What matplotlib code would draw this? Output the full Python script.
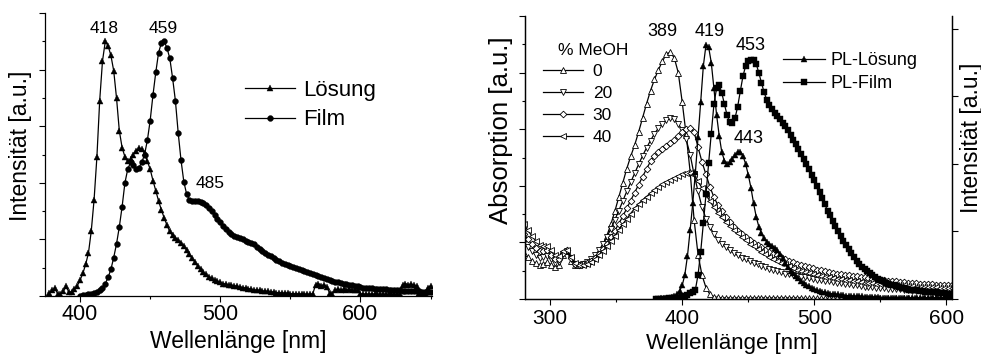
import numpy as np
import matplotlib
matplotlib.use("Agg")
import matplotlib.pyplot as plt
from matplotlib.ticker import MultipleLocator, NullFormatter

plt.rcParams['font.family'] = ['Liberation Sans', 'DejaVu Sans']

# ---------------- Left panel: emission (solution vs film) ----------------
loesung_start, loesung_step = 378, 2
loesung = [0.05, 0.1, 0.14, 0.04, 0.04, 0.08, 0.17, 0.07, 0.07, 0.12,
           0.18, 0.28, 0.4, 0.56, 0.76, 1.15, 1.7, 2.45, 3.45, 4.15,
           4.5, 4.42, 4.25, 3.98, 3.5, 2.92, 2.62, 2.46, 2.38, 2.42,
           2.5, 2.57, 2.61, 2.6, 2.52, 2.38, 2.24, 2.04, 1.86, 1.68,
           1.52, 1.38, 1.25, 1.14, 1.07, 1.03, 0.99, 0.94, 0.88, 0.81,
           0.74, 0.67, 0.6, 0.53, 0.47, 0.42, 0.38, 0.34, 0.31, 0.28,
           0.26, 0.24, 0.22, 0.21, 0.2, 0.19, 0.18, 0.17, 0.16, 0.15,
           0.14, 0.13, 0.12, 0.11, 0.1, 0.1, 0.09, 0.08, 0.08, 0.07,
           0.07, 0.06, 0.06, 0.05, 0.05, 0.05, 0.04, 0.04, 0.04, 0.04,
           0.03, 0.03, 0.03, 0.03, 0.04, 0.2, 0.22, 0.18, 0.2, 0.16,
           0.05, 0.04, 0.1, 0.12, 0.1, 0.12, 0.1, 0.12, 0.11, 0.1,
           0.11, 0.04, 0.03, 0.03, 0.03, 0.03, 0.03, 0.03, 0.03, 0.03,
           0.03, 0.03, 0.03, 0.03, 0.03, 0.04, 0.2, 0.22, 0.2, 0.21,
           0.19, 0.18, 0.05, 0.04, 0.06, 0.15, 0.18]

film_start, film_step = 400, 2
film = [0.0, 0.01, 0.02, 0.03, 0.04, 0.05, 0.07, 0.1, 0.15, 0.22,
        0.33, 0.47, 0.68, 0.92, 1.22, 1.58, 2.0, 2.24, 2.36, 2.32,
        2.24, 2.27, 2.36, 2.5, 2.75, 3.1, 3.55, 3.95, 4.3, 4.47,
        4.5, 4.38, 4.2, 3.85, 3.45, 2.88, 2.4, 2.02, 1.8, 1.7,
        1.68, 1.67, 1.67, 1.66, 1.64, 1.6, 1.55, 1.5, 1.43, 1.36,
        1.3, 1.24, 1.18, 1.13, 1.09, 1.06, 1.04, 1.02, 1.0, 0.98,
        0.96, 0.94, 0.91, 0.87, 0.83, 0.8, 0.76, 0.73, 0.7, 0.67,
        0.64, 0.62, 0.59, 0.57, 0.55, 0.53, 0.52, 0.5, 0.48, 0.46,
        0.44, 0.42, 0.41, 0.39, 0.37, 0.35, 0.33, 0.31, 0.3, 0.28,
        0.27, 0.25, 0.24, 0.23, 0.22, 0.21, 0.2, 0.19, 0.18, 0.17,
        0.16, 0.15, 0.15, 0.14, 0.14, 0.13, 0.13, 0.12, 0.12, 0.12,
        0.11, 0.11, 0.1, 0.1, 0.1, 0.09, 0.09, 0.09, 0.08, 0.08,
        0.08, 0.08, 0.07, 0.07, 0.07, 0.07]

left_peak_labels = ["418", "459", "485"]
left_peak_pos = [(417.1, 4.73), (459.5, 4.73), (493.0, 1.99)]
left_series_names = ["Lösung", "Film"]

# ---------------- Right panel: absorption (MeOH) + PL ----------------
abs_start, abs_step = 280, 3
abs_0 = [0.82, 0.74, 0.68, 0.63, 0.6, 0.62, 0.65, 0.6, 0.56, 0.6,
         0.78, 0.84, 0.68, 0.6, 0.6, 0.62, 0.64, 0.68, 0.74, 0.83,
         0.95, 1.12, 1.32, 1.55, 1.8, 2.05, 2.3, 2.52, 2.72, 2.95,
         3.2, 3.45, 3.68, 3.88, 4.05, 4.2, 4.33, 4.36, 4.26, 4.0,
         3.48, 2.9, 2.25, 1.4, 0.78, 0.42, 0.2, 0.08, 0.04, 0.03,
         0.02, 0.02, 0.02, 0.02, 0.02, 0.02, 0.02, 0.02, 0.02, 0.02,
         0.02, 0.02, 0.02, 0.02, 0.02, 0.02, 0.02, 0.02, 0.02, 0.02,
         0.02, 0.01, 0.01, 0.01, 0.01, 0.01, 0.01, 0.01, 0.01, 0.01,
         0.01, 0.01, 0.01, 0.01, 0.01, 0.01, 0.01, 0.01, 0.01, 0.01,
         0.01, 0.01, 0.01, 0.01, 0.01, 0.01, 0.01, 0.01, 0.01, 0.01,
         0.01, 0.01, 0.01, 0.01, 0.01, 0.01, 0.01, 0.01, 0.01]
abs_20 = [1.0, 0.92, 0.85, 0.78, 0.72, 0.74, 0.76, 0.7, 0.64, 0.66,
          0.8, 0.85, 0.7, 0.6, 0.6, 0.62, 0.65, 0.7, 0.77, 0.86,
          0.97, 1.1, 1.24, 1.4, 1.56, 1.73, 1.9, 2.06, 2.22, 2.38,
          2.53, 2.67, 2.8, 2.92, 3.02, 3.1, 3.16, 3.19, 3.18, 3.1,
          2.98, 2.82, 2.55, 2.2, 1.9, 1.62, 1.42, 1.27, 1.15, 1.05,
          0.98, 0.92, 0.86, 0.81, 0.77, 0.73, 0.7, 0.67, 0.64, 0.61,
          0.58, 0.56, 0.53, 0.51, 0.49, 0.47, 0.45, 0.44, 0.42, 0.41,
          0.39, 0.38, 0.37, 0.35, 0.34, 0.33, 0.32, 0.31, 0.3, 0.29,
          0.28, 0.27, 0.26, 0.25, 0.24, 0.23, 0.22, 0.21, 0.21, 0.2,
          0.19, 0.19, 0.18, 0.18, 0.17, 0.17, 0.16, 0.16, 0.15, 0.15,
          0.15, 0.14, 0.14, 0.14, 0.13, 0.13, 0.13, 0.12, 0.12]
abs_30 = [1.15, 1.06, 0.97, 0.9, 0.84, 0.84, 0.86, 0.78, 0.7, 0.7,
          0.82, 0.86, 0.72, 0.62, 0.6, 0.61, 0.63, 0.67, 0.73, 0.8,
          0.88, 0.98, 1.09, 1.21, 1.33, 1.46, 1.6, 1.74, 1.88, 2.02,
          2.16, 2.3, 2.43, 2.53, 2.6, 2.65, 2.7, 2.75, 2.81, 2.88,
          2.95, 3.01, 3.03, 2.95, 2.68, 2.42, 2.2, 1.98, 1.8, 1.66,
          1.56, 1.45, 1.36, 1.28, 1.21, 1.15, 1.09, 1.04, 0.99, 0.95,
          0.91, 0.87, 0.83, 0.8, 0.77, 0.74, 0.71, 0.68, 0.65, 0.62,
          0.6, 0.58, 0.56, 0.54, 0.52, 0.51, 0.49, 0.48, 0.46, 0.45,
          0.44, 0.43, 0.42, 0.41, 0.4, 0.39, 0.38, 0.37, 0.36, 0.35,
          0.34, 0.33, 0.32, 0.32, 0.31, 0.3, 0.3, 0.29, 0.28, 0.28,
          0.27, 0.27, 0.26, 0.26, 0.25, 0.25, 0.25, 0.24, 0.24]
abs_40 = [1.32, 1.22, 1.12, 1.03, 0.96, 0.94, 0.94, 0.86, 0.78, 0.76,
          0.84, 0.86, 0.74, 0.64, 0.6, 0.6, 0.62, 0.66, 0.71, 0.78,
          0.85, 0.93, 1.02, 1.12, 1.22, 1.32, 1.42, 1.51, 1.6, 1.68,
          1.75, 1.81, 1.87, 1.93, 1.98, 2.03, 2.07, 2.11, 2.14, 2.17,
          2.2, 2.22, 2.23, 2.2, 2.08, 1.96, 1.84, 1.73, 1.62, 1.52,
          1.44, 1.36, 1.29, 1.22, 1.16, 1.1, 1.04, 0.98, 0.93, 0.88,
          0.83, 0.79, 0.75, 0.71, 0.67, 0.64, 0.61, 0.58, 0.55, 0.52,
          0.5, 0.48, 0.46, 0.44, 0.42, 0.41, 0.39, 0.38, 0.37, 0.36,
          0.35, 0.34, 0.33, 0.32, 0.31, 0.3, 0.29, 0.29, 0.28, 0.27,
          0.27, 0.26, 0.26, 0.25, 0.25, 0.24, 0.24, 0.23, 0.23, 0.22,
          0.22, 0.22, 0.21, 0.21, 0.21, 0.2, 0.2, 0.2, 0.2]
meoh_labels = ["0", "20", "30", "40"]

pl_start, pl_step = 380, 2
pl_loesung = [0.0, 0.0, 0.01, 0.01, 0.01, 0.02, 0.03, 0.04, 0.07, 0.12,
              0.2, 0.36, 0.64, 1.02, 1.42, 1.88, 2.4, 2.92, 3.45, 3.76,
              3.73, 3.5, 3.12, 2.73, 2.42, 2.17, 2.05, 2.0, 2.03, 2.08,
              2.13, 2.17, 2.18, 2.12, 2.0, 1.84, 1.65, 1.42, 1.22, 1.07,
              0.97, 0.9, 0.85, 0.82, 0.79, 0.76, 0.72, 0.67, 0.61, 0.54,
              0.47, 0.42, 0.38, 0.34, 0.31, 0.27, 0.24, 0.21, 0.19, 0.17,
              0.15, 0.13, 0.12, 0.11, 0.1, 0.09, 0.08, 0.08, 0.07, 0.07,
              0.06, 0.06, 0.05, 0.05, 0.05, 0.04, 0.04, 0.04, 0.04, 0.03,
              0.03, 0.03, 0.03, 0.03, 0.03, 0.02, 0.02, 0.02, 0.02, 0.02,
              0.02, 0.02, 0.02, 0.02, 0.02, 0.02, 0.02, 0.02, 0.02, 0.02,
              0.02, 0.02, 0.02, 0.02, 0.02, 0.02, 0.02, 0.02, 0.02, 0.02,
              0.02, 0.02, 0.02]
pl_film = [0.0, 0.0, 0.0, 0.0, 0.0, 0.01, 0.01, 0.01, 0.02, 0.02,
           0.03, 0.04, 0.06, 0.09, 0.11, 0.14, 0.36, 0.7, 1.12, 1.55,
           2.01, 2.45, 2.88, 3.12, 3.17, 3.05, 2.88, 2.72, 2.62, 2.6,
           2.68, 2.85, 3.08, 3.3, 3.45, 3.52, 3.54, 3.54, 3.48, 3.35,
           3.2, 3.06, 2.95, 2.87, 2.81, 2.76, 2.71, 2.66, 2.61, 2.56,
           2.5, 2.43, 2.36, 2.29, 2.22, 2.15, 2.08, 2.0, 1.92, 1.84,
           1.76, 1.67, 1.58, 1.49, 1.4, 1.31, 1.24, 1.16, 1.08, 1.0,
           0.93, 0.86, 0.8, 0.74, 0.68, 0.62, 0.57, 0.52, 0.48, 0.44,
           0.41, 0.38, 0.35, 0.32, 0.3, 0.28, 0.26, 0.24, 0.22, 0.21,
           0.2, 0.19, 0.18, 0.17, 0.16, 0.15, 0.14, 0.14, 0.13, 0.13,
           0.12, 0.12, 0.11, 0.11, 0.1, 0.1, 0.1, 0.09, 0.09, 0.09,
           0.08, 0.08, 0.08]
pl_names = ["PL-Lösung", "PL-Film"]

right_peak_labels = ["389", "419", "453", "443"]
right_peak_pos = [(384.9, 4.72), (420.8, 4.72), (451.5, 4.48), (450.2, 2.84)]


def grid(start, step, vals):
    return start + step * np.arange(len(vals))


fig = plt.figure(figsize=(9.81, 3.56), dpi=100)

# ---------- left axes ----------
axL = fig.add_axes([45 / 981, 60 / 356, 387 / 981, 283 / 356])
lineL1, = axL.plot(grid(loesung_start, loesung_step, loesung), loesung, '-^',
                   color='black', lw=0.9, ms=4.8, mec='black', mfc='black',
                   mew=0.3, label=left_series_names[0])
lineL2, = axL.plot(grid(film_start, film_step, film), film, '-o',
                   color='black', lw=0.9, ms=4.2, mec='black', mfc='black',
                   mew=0.3, label=left_series_names[1])
axL.set_xlim(375, 651)
axL.set_ylim(0, 5)
axL.spines['top'].set_visible(False)
axL.spines['right'].set_visible(False)
axL.xaxis.set_major_locator(MultipleLocator(100))
axL.xaxis.set_minor_locator(MultipleLocator(50))
axL.yaxis.set_major_locator(MultipleLocator(1))
axL.yaxis.set_minor_locator(MultipleLocator(0.5))
axL.yaxis.set_major_formatter(NullFormatter())
axL.tick_params(which='major', direction='out', length=4, width=0.8,
                labelsize=15.5, pad=2)
axL.tick_params(which='minor', direction='out', length=2.5, width=0.8)
axL.set_xlabel("Wellenlänge [nm]", fontsize=16.5)
axL.set_ylabel("Intensität [a.u.]", fontsize=16.5)
axL.xaxis.set_label_coords(0.5, -0.12)
axL.yaxis.set_label_coords(-0.034, 0.53)
for lbl, (px, py) in zip(left_peak_labels, left_peak_pos):
    axL.text(px, py, lbl, fontsize=12.5, ha='center', va='center')
axL.legend(handles=[lineL1, lineL2], loc='upper left',
           bbox_to_anchor=(0.517, 0.765), frameon=False, fontsize=16,
           handlelength=2.25, handletextpad=0.35, labelspacing=0.4,
           borderpad=0, borderaxespad=0, numpoints=1)

# ---------- right axes ----------
axR = fig.add_axes([525 / 981, 57 / 356, 426.7 / 981, 283 / 356])
open_kw = dict(color='black', lw=0.9, mfc='white', mec='black', mew=0.6)
hA0, = axR.plot(grid(abs_start, abs_step, abs_0), abs_0, '-^', ms=4.6,
                label=meoh_labels[0], **open_kw)
hA1, = axR.plot(grid(abs_start, abs_step, abs_20), abs_20, '-v', ms=4.6,
                label=meoh_labels[1], **open_kw)
hA2, = axR.plot(grid(abs_start, abs_step, abs_30), abs_30, '-D', ms=3.4,
                label=meoh_labels[2], **open_kw)
hA3, = axR.plot(grid(abs_start, abs_step, abs_40), abs_40, '-<', ms=4.6,
                label=meoh_labels[3], **open_kw)
axR.set_xlim(281, 604)
axR.set_ylim(0, 5)
axR.spines['top'].set_visible(False)
axR.xaxis.set_major_locator(MultipleLocator(100))
axR.xaxis.set_minor_locator(MultipleLocator(50))
axR.yaxis.set_major_locator(MultipleLocator(1))
axR.yaxis.set_minor_locator(MultipleLocator(0.5))
axR.yaxis.set_major_formatter(NullFormatter())
axR.tick_params(which='major', direction='out', length=4, width=0.8,
                labelsize=15, pad=3)
axR.tick_params(which='minor', direction='out', length=2.5, width=0.8)
axR.set_xlabel("Wellenlänge [nm]", fontsize=16)
axR.set_ylabel("Absorption [a.u.]", fontsize=18.5)
axR.xaxis.set_label_coords(0.484, -0.12)
axR.yaxis.set_label_coords(-0.028, 0.597)
for lbl, (px, py) in zip(right_peak_labels, right_peak_pos):
    axR.text(px, py, lbl, fontsize=13, ha='center', va='center')
axR.text(0.159, 0.879, "% MeOH", transform=axR.transAxes, fontsize=12.5,
         ha='center', va='center')
axR.legend(handles=[hA0, hA1, hA2, hA3], loc='upper left',
           bbox_to_anchor=(0.042, 0.832), frameon=False, fontsize=12.5,
           handlelength=2.3, handletextpad=0.57, labelspacing=0.4,
           borderpad=0, borderaxespad=0, numpoints=1)

ax2 = axR.twinx()
hP1, = ax2.plot(grid(pl_start, pl_step, pl_loesung), pl_loesung, '-^',
                color='black', lw=0.9, ms=4.8, mfc='black', mec='black',
                mew=0.3, label=pl_names[0])
hP2, = ax2.plot(grid(pl_start, pl_step, pl_film), pl_film, '-s',
                color='black', lw=0.9, ms=3.8, mfc='black', mec='black',
                mew=0.3, label=pl_names[1])
ax2.set_ylim(0, 4.19)
ax2.set_xlim(281, 604)
ax2.spines['top'].set_visible(False)
ax2.yaxis.set_major_locator(MultipleLocator(1))
ax2.yaxis.set_major_formatter(NullFormatter())
ax2.tick_params(axis='y', which='major', direction='out', length=4, width=0.8)
ax2.set_ylabel("Intensität [a.u.]", fontsize=16.5)
ax2.yaxis.set_label_coords(1.019, 0.571)
ax2.legend(handles=[hP1, hP2], loc='upper left',
           bbox_to_anchor=(0.605, 0.873), frameon=False, fontsize=13,
           handlelength=2.3, handletextpad=0.3, labelspacing=0.35,
           borderpad=0, borderaxespad=0, numpoints=1)

for ax in (axL, axR, ax2):
    for s in ax.spines.values():
        s.set_linewidth(0.9)

fig.savefig("out.png", dpi=100)
